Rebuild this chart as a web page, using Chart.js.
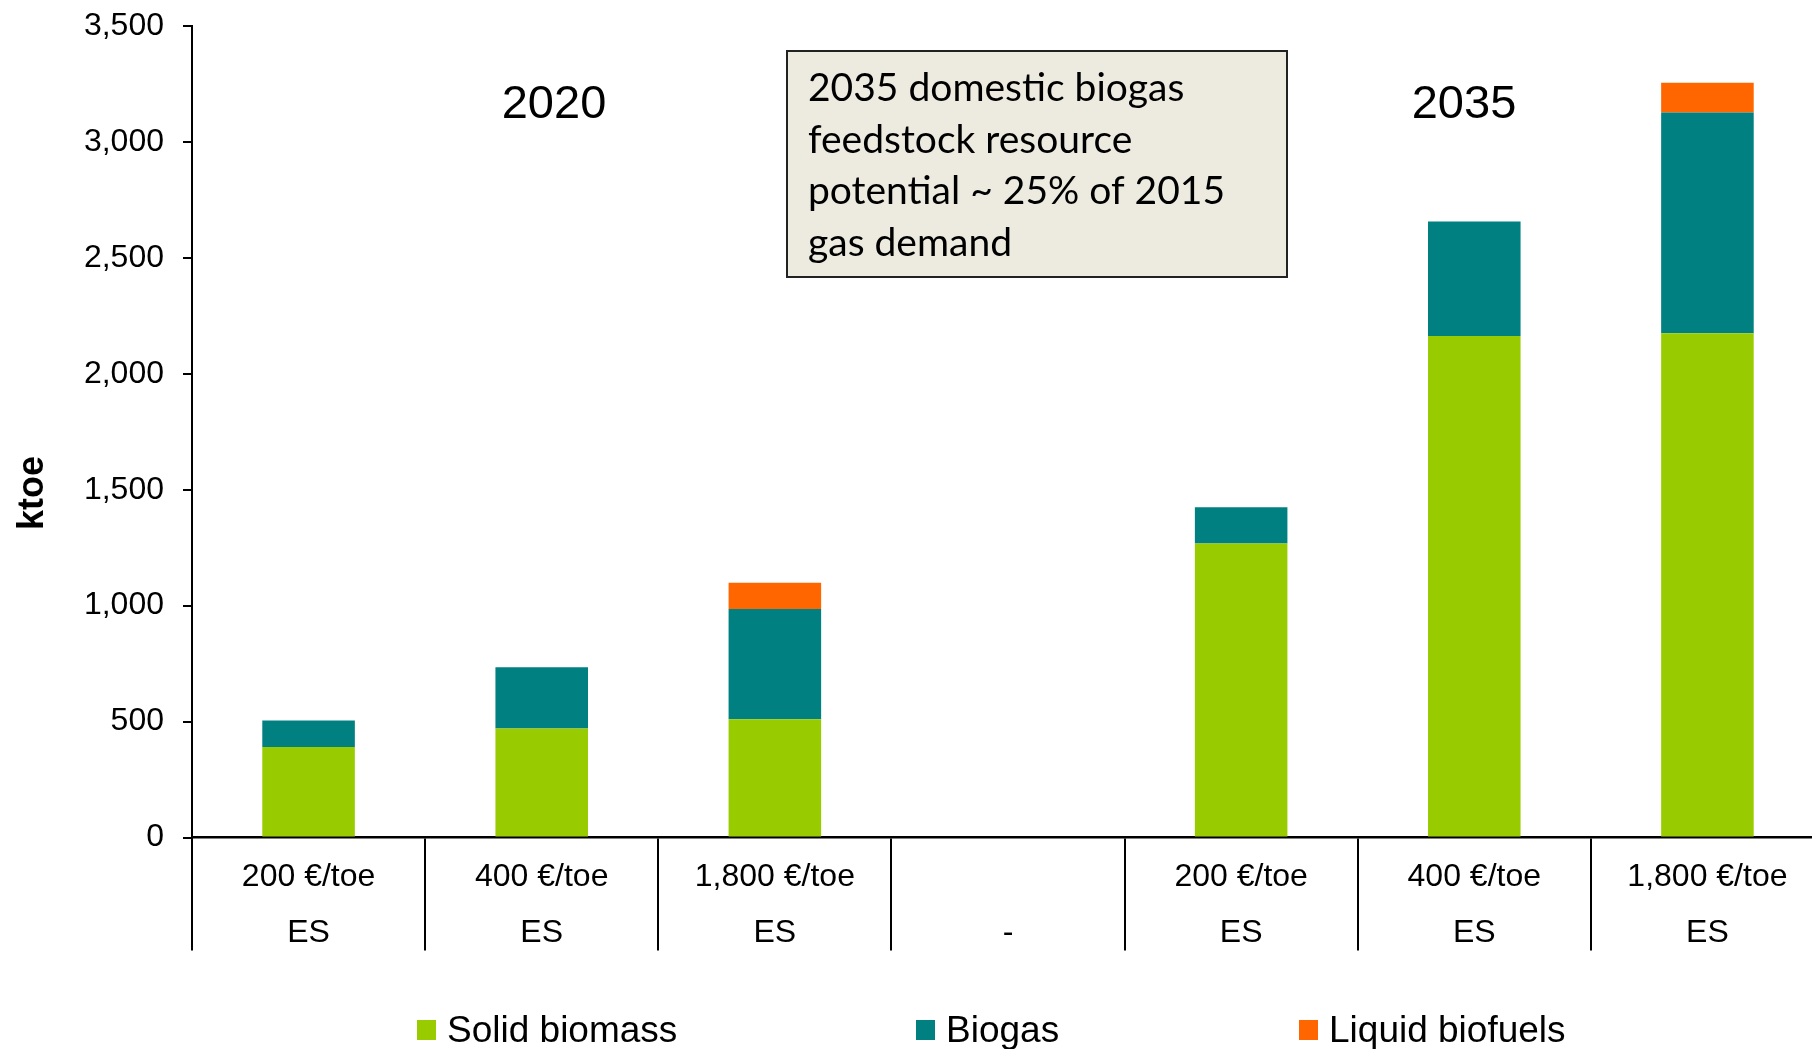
<!DOCTYPE html>
<html>
<head>
<meta charset="utf-8">
<script src="https://cdn.jsdelivr.net/npm/chart.js@4.4.0/dist/chart.umd.min.js"></script>
<style>
    body { margin: 0; overflow: hidden; background: #fff; }
    .wrap { position: relative; width: 1812px; height: 1049px; overflow: hidden; }
    #chart { position: absolute; left: 0; top: 0; }
    .legend { position: absolute; left: 417px; top: 1010px; display: flex; font: 37px 'Liberation Sans', Arial, sans-serif; color: #000; }
    .legend-item { display: flex; align-items: center; height: 40px; }
    .legend-item .box { width: 19px; height: 20px; margin-right: 11px; }
</style>
</head>
<body>
<div class="wrap">
    <canvas id="chart" width="1824" height="1049"></canvas>
    <div class="legend" id="legend"></div>
</div>
<script>
// categories (two-line labels: price / scenario)
const categories = [
    ['200 €/toe', 'ES'],
    ['400 €/toe', 'ES'],
    ['1,800 €/toe', 'ES'],
    ['', '-'],
    ['200 €/toe', 'ES'],
    ['400 €/toe', 'ES'],
    ['1,800 €/toe', 'ES']
];

// ktoe
const solidBiomass = [390, 470, 510, null, 1268, 2163, 2175];
const biogas = [115, 264, 476, null, 156, 494, 952];
const liquidBiofuels = [0, 0, 113, null, 0, 0, 128];

const yTicks = [0, 500, 1000, 1500, 2000, 2500, 3000, 3500];

const yearLabels = ['2020', '2035'];
const noteLines = [
    '2035 domestic biogas',
    'feedstock resource',
    'potential ~ 25% of 2015',
    'gas demand'
];

const arial = "'Liberation Sans', Arial, sans-serif";

const extras = {
    id: 'extras',
    afterDraw(chart) {
        const ctx = chart.ctx;
        ctx.save();
        ctx.fillStyle = '#000';
        ctx.textAlign = 'center';
        ctx.textBaseline = 'alphabetic';
        ctx.font = '47px ' + arial;
        ctx.fillText(yearLabels[0], 554, 118);
        ctx.fillText(yearLabels[1], 1464, 118);

        // y title, placed lower than the axis middle like the original
        ctx.save();
        ctx.translate(43, 493);
        ctx.rotate(-Math.PI / 2);
        ctx.font = 'bold 36px ' + arial;
        ctx.fillText('ktoe', 0, 0);
        ctx.restore();

        // note box
        ctx.fillStyle = '#edebe0';
        ctx.fillRect(787, 51, 500, 226);
        ctx.strokeStyle = '#222';
        ctx.lineWidth = 2;
        ctx.strokeRect(787, 51, 500, 226);
        ctx.fillStyle = '#000';
        ctx.textAlign = 'left';
        ctx.font = "39px Lato, 'Open Sans', sans-serif";
        for (let i = 0; i < noteLines.length; i++) {
            ctx.fillText(noteLines[i], 808, 101 + i * 51.5);
        }
        ctx.restore();
    }
};

const ctx = document.getElementById('chart').getContext('2d');

const chart = new Chart(ctx, {
    type: 'bar',
    data: {
        labels: categories,
        datasets: [
            { label: 'Solid biomass', data: solidBiomass, backgroundColor: '#99cc00' },
            { label: 'Biogas', data: biogas, backgroundColor: '#008080' },
            { label: 'Liquid biofuels', data: liquidBiofuels, backgroundColor: '#ff6600' }
        ]
    },
    options: {
        responsive: false,
        devicePixelRatio: 1,
        animation: false,
        categoryPercentage: 1,
        barPercentage: 0.397,
        layout: { padding: { top: 26, left: 0, right: 0, bottom: 0 } },
        plugins: {
            legend: { display: false },
            tooltip: { enabled: false }
        },
        scales: {
            x: {
                stacked: true,
                grid: {
                    offset: true,
                    drawOnChartArea: false,
                    tickLength: 113,
                    color: '#000',
                    lineWidth: 2
                },
                border: { display: true, color: '#000', width: 2.5 },
                ticks: {
                    color: '#000',
                    font: { family: arial, size: 32, lineHeight: 56 / 32 },
                    padding: -101,
                    maxRotation: 0,
                    autoSkip: false
                },
                afterFit(scale) {
                    scale.height = 1049 - 837.5;
                }
            },
            y: {
                stacked: true,
                min: 0,
                max: 3500,
                afterBuildTicks(scale) {
                    scale.ticks = yTicks.map(v => ({ value: v }));
                },
                grid: {
                    drawOnChartArea: false,
                    tickLength: 9,
                    color: '#000',
                    lineWidth: 2
                },
                border: { display: true, color: '#000', width: 2 },
                ticks: {
                    color: '#000',
                    font: { family: arial, size: 32 },
                    padding: 19,
                    callback: v => v.toLocaleString('en-US')
                },
                afterFit(scale) {
                    scale.width = 192;
                    // the tick padding should not push the plot top down
                    scale.paddingTop = 10;
                    scale.paddingBottom = 0;
                }
            }
        }
    },
    plugins: [extras]
});

// html legend, spaced like the original
const legendWidths = [499, 383, null];
const legend = document.getElementById('legend');
chart.data.datasets.forEach((ds, i) => {
    const item = document.createElement('div');
    item.className = 'legend-item';
    if (legendWidths[i]) item.style.width = legendWidths[i] + 'px';
    const box = document.createElement('span');
    box.className = 'box';
    box.style.backgroundColor = ds.backgroundColor;
    const txt = document.createElement('span');
    txt.textContent = ds.label;
    item.appendChild(box);
    item.appendChild(txt);
    legend.appendChild(item);
});
</script>
</body>
</html>
